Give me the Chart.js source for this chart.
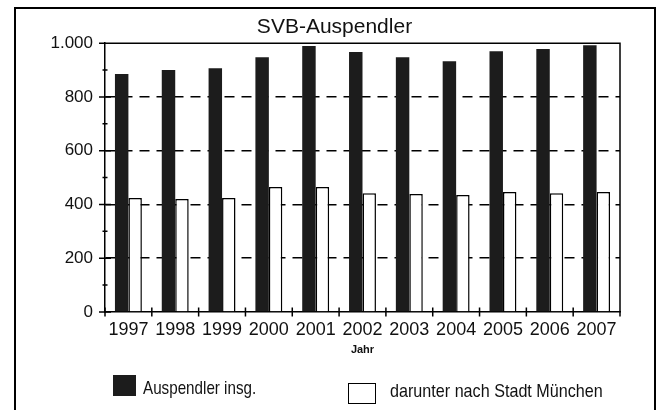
<!DOCTYPE html>
<html>
<head>
<meta charset="utf-8">
<script src="https://cdn.jsdelivr.net/npm/chart.js@4/dist/chart.umd.min.js"></script>
<style>
  html, body { margin: 0; padding: 0; background: #fff; overflow: hidden; }
  #wrap { position: relative; width: 659px; height: 410px; }
  #frame { position: absolute; left: 14px; top: 7px; width: 642px; height: 440px; box-sizing: border-box; border: 2px solid #000; }
  canvas { position: absolute; left: 0; top: 0; }
  .lg { position: absolute; font-family: "Liberation Sans", Arial, sans-serif; font-size: 19px; color: #111; white-space: nowrap; transform-origin: 0 0; }
  .sw { position: absolute; box-sizing: border-box; }
</style>
</head>
<body>
<div id="wrap">
  <div id="frame"></div>
  <canvas id="chart-svb" width="659" height="410"></canvas>
  <div class="sw" id="sw1" style="left:113px; top:375px; width:23px; height:21px; background:#1c1c1c;"></div>
  <div class="lg" id="lg1" style="left:143px; top:377px; transform:scaleX(0.8);"></div>
  <div class="sw" id="sw2" style="left:348px; top:383px; width:28px; height:21px; background:#fff; border:1.5px solid #000;"></div>
  <div class="lg" id="lg2" style="left:390px; top:380px; transform:scaleX(0.85);"></div>
</div>
<script>
const years = ['1997', '1998', '1999', '2000', '2001', '2002', '2003', '2004', '2005', '2006', '2007'];
const auspendlerInsg = [885, 900, 907, 948, 990, 967, 948, 933, 970, 978, 992];
const nachMuenchen = [424, 420, 424, 465, 465, 442, 439, 435, 446, 442, 446];
const seriesNames = ['Auspendler insg.', 'darunter nach Stadt München'];
const yTicks = [0, 200, 400, 600, 800, 1000];

document.getElementById('lg1').textContent = seriesNames[0];
document.getElementById('lg2').textContent = seriesNames[1];

const sans = '"Liberation Sans", Arial, sans-serif';

// frame of the plot + ticks that cross the axes
const axisDeco = {
    id: 'axisDeco',
    afterDraw(chart) {
        const ctx = chart.ctx;
        const a = chart.chartArea;
        const x = chart.scales.x;
        const y = chart.scales.y;
        ctx.save();
        ctx.strokeStyle = '#000';
        ctx.lineWidth = 1.5;
        ctx.beginPath();
        ctx.moveTo(a.left, a.top);
        ctx.lineTo(a.right, a.top);
        ctx.lineTo(a.right, a.bottom);
        // y ticks every 100
        for (let v = 0; v <= 1000; v += 100) {
            const py = y.getPixelForValue(v);
            const len = yTicks.includes(v) ? 6 : 2.5;
            ctx.moveTo(a.left - len, py);
            ctx.lineTo(a.left + len, py);
        }
        // x ticks on category boundaries
        const half = (x.getPixelForValue(1) - x.getPixelForValue(0)) / 2;
        for (let i = 0; i <= years.length; i++) {
            const px = x.getPixelForValue(i) - half;
            ctx.moveTo(px, a.bottom - 4.5);
            ctx.lineTo(px, a.bottom + 4.5);
        }
        ctx.stroke();
        ctx.restore();
    }
};

const ctx = document.getElementById('chart-svb').getContext('2d');
const chartSvb = new Chart(ctx, {
    type: 'bar',
    data: {
        labels: years,
        datasets: [
            {
                label: seriesNames[0],
                data: auspendlerInsg,
                backgroundColor: '#1c1c1c',
                borderWidth: 0
            },
            {
                label: seriesNames[1],
                data: nachMuenchen,
                backgroundColor: '#fff',
                borderColor: '#000',
                borderWidth: 1.5,
                borderSkipped: 'bottom'
            }
        ]
    },
    options: {
        responsive: false,
        animation: false,
        devicePixelRatio: 1,
        layout: { padding: { left: 14, right: 4, top: 0, bottom: 48 } },
        datasets: {
            bar: { categoryPercentage: 0.575, barPercentage: 1 }
        },
        plugins: {
            legend: { display: false },
            tooltip: { enabled: false },
            title: {
                display: true,
                text: 'SVB-Auspendler',
                color: '#111',
                font: { family: sans, size: 21, weight: 'normal', lineHeight: 1.2 },
                padding: { top: 15, bottom: 3 }
            }
        },
        scales: {
            x: {
                grid: { display: false, drawTicks: false },
                border: { display: true, color: '#000', width: 1.5 },
                ticks: {
                    color: '#111',
                    padding: 7,
                    maxRotation: 0,
                    autoSkip: false,
                    font: { family: sans, size: 18 }
                },
                title: {
                    display: true,
                    text: 'Jahr',
                    color: '#111',
                    font: { family: sans, size: 11, weight: 'bold' },
                    padding: { top: 0, bottom: 5 }
                },
                afterFit: s => { s.height = 50; }
            },
            y: {
                min: 0,
                max: 1000,
                grid: {
                    drawTicks: false,
                    lineWidth: 1.5,
                    color: c => (c.tick && (c.tick.value === 0 || c.tick.value === 1000)) ? 'rgba(0,0,0,0)' : '#000'
                },
                border: { display: true, color: '#000', width: 1.5, dash: [10, 7] },
                ticks: {
                    stepSize: 200,
                    padding: 12,
                    color: '#111',
                    font: { family: sans, size: 17 },
                    callback: v => v.toLocaleString('de-DE')
                },
                afterFit: s => { s.width = 91; }
            },
            yR: {
                position: 'right',
                display: true,
                grid: { display: false, drawTicks: false },
                border: { display: false },
                ticks: { display: false },
                afterFit: s => { s.width = 35; }
            }
        }
    },
    plugins: [axisDeco]
});
</script>
</body>
</html>
